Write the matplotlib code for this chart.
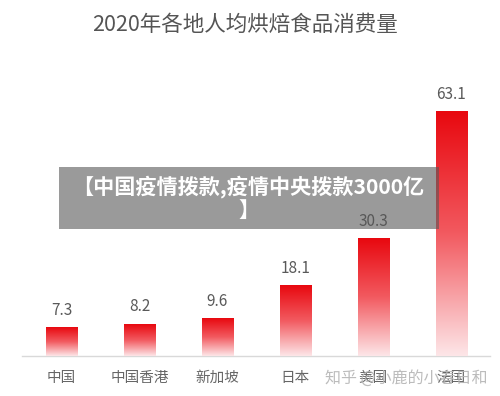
import numpy as np
import matplotlib
matplotlib.use('Agg')
import matplotlib.pyplot as plt
from matplotlib.colors import LinearSegmentedColormap
from matplotlib.patches import Rectangle

plt.rcParams['font.family'] = ['Noto Sans CJK SC', 'DejaVu Sans']

categories = ['中国', '中国香港', '新加坡', '日本', '美国', '法国']
values = [7.3, 8.2, 9.6, 18.1, 30.3, 63.1]
title = '2020年各地人均烘焙食品消费量'
banner_text = '【中国疫情拨款,疫情中央拨款3000亿\n】'
watermark = '知乎 @小鹿的小春日和'

fig = plt.figure(figsize=(5, 3.96), dpi=100)
ax = fig.add_axes([0, 0, 1, 1])
ax.set_xlim(-0.788, 5.622)
ax.set_ylim(-10.34, 92.0)
ax.axis('off')

# gradient: pale pink at the bottom, red at the top
cmap = LinearSegmentedColormap.from_list('bar', ['#fde6e8', '#f25a60', '#e8080f'])
grad = np.linspace(0, 1, 256).reshape(-1, 1)
bar_w = 0.4
for i, v in enumerate(values):
    ax.imshow(grad, cmap=cmap, origin='lower', aspect='auto',
              extent=(i - bar_w / 2, i + bar_w / 2, 0, v), zorder=2)
    ax.text(i, v + 2.3, f'{v}', ha='center', va='bottom', fontsize=11, color='#595959')
    ax.text(i, -5.7, categories[i], ha='center', va='center', fontsize=10.5, color='#666666')

ax.plot([-0.5, 5.5], [0, 0], color='#d9d9d9', lw=1, zorder=1)

fig.text(0.49, 1 - 25 / 396, title, ha='center', va='center', fontsize=15.5, color='#555555')

# semi-transparent grey overlay banner
fig.patches.append(Rectangle((59 / 500, 1 - 229 / 396), 380 / 500, 62 / 396,
                             transform=fig.transFigure, facecolor='#575757',
                             edgecolor='none', alpha=0.6, zorder=5))
fig.text(0.497, 1 - 198 / 396, banner_text, ha='center', va='center', fontsize=15.2,
         color='white', fontweight='bold', linespacing=1.15, zorder=6)

fig.text(0.975, 1 - 378 / 396, watermark, ha='right', va='center', fontsize=11.5,
         color='#b5b5b5', alpha=0.9, zorder=6)

fig.savefig('out.png', dpi=100)
